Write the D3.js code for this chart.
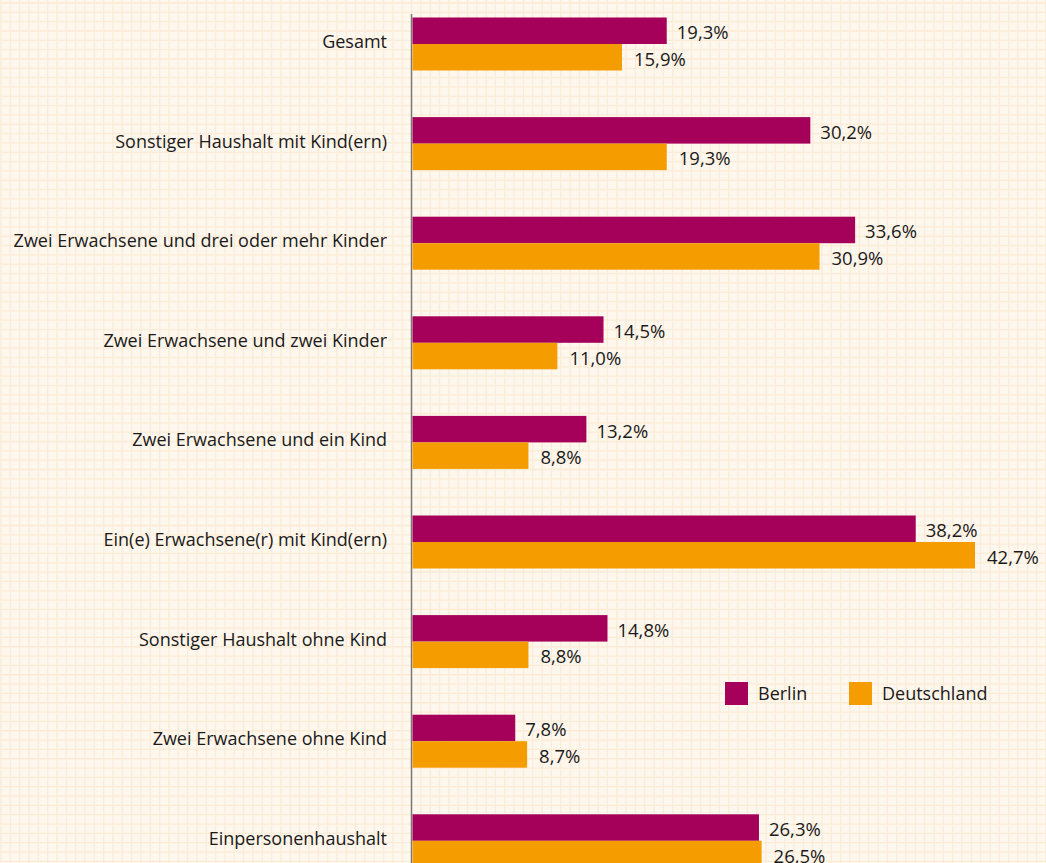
<!DOCTYPE html>
<html><head><meta charset="utf-8">
<script src="https://cdn.jsdelivr.net/npm/d3@7"></script>
<style>html,body{margin:0;padding:0;background:#fef7ee;overflow:hidden}</style>
</head><body>
<svg id="c" width="1046" height="863"></svg>
<script>
const categories = ["Gesamt","Sonstiger Haushalt mit Kind(ern)","Zwei Erwachsene und drei oder mehr Kinder","Zwei Erwachsene und zwei Kinder","Zwei Erwachsene und ein Kind","Ein(e) Erwachsene(r) mit Kind(ern)","Sonstiger Haushalt ohne Kind","Zwei Erwachsene ohne Kind","Einpersonenhaushalt"];
const berlin = [19.3,30.2,33.6,14.5,13.2,38.2,14.8,7.8,26.3];
const deutschland = [15.9,19.3,30.9,11.0,8.8,42.7,8.8,8.7,26.5];
const seriesNames = ["Berlin","Deutschland"];
const colors = ["#a5005a","#f59c00"];

const W=1046,H=863;
const svg=d3.select("#c");
// background grid
const g0=svg.append("g");
g0.append("rect").attr("width",W).attr("height",H).attr("fill","#fef7ee");
const step=9.33;
d3.range(0,W,step).forEach(x=>g0.append("line").attr("x1",x+1).attr("x2",x+1).attr("y1",0).attr("y2",H).attr("stroke","#fcebd6").attr("stroke-width",1.3));
d3.range(0,H,step).forEach(y=>g0.append("line").attr("y1",y+3).attr("y2",y+3).attr("x1",0).attr("x2",W).attr("stroke","#fcebd6").attr("stroke-width",1.3));

const x=d3.scaleLinear().domain([0,42.7]).range([412.5,975]);
const y=d3.scaleBand().domain(categories).range([-5.8,890.6]).paddingInner(0).paddingOuter(0);
const bh=26.5;
const font="'Open Sans', sans-serif";

svg.append("line").attr("x1",411.5).attr("x2",411.5).attr("y1",14).attr("y2",H).attr("stroke","#7a7a7a").attr("stroke-width",1.5);

const grp=svg.append("g").selectAll("g").data(categories).join("g");
[berlin,deutschland].forEach((vals,si)=>{
  grp.append("rect")
    .attr("x",x(0)).attr("y",(d,i)=>y(d)+y.bandwidth()/2-bh+si*bh)
    .attr("width",(d,i)=>x(vals[i])-x(0)).attr("height",bh).attr("fill",colors[si]);
  grp.append("text")
    .attr("x",(d,i)=>x(vals[i])+ (si===0?10:12)).attr("y",(d,i)=>y(d)+y.bandwidth()/2-bh+si*bh+bh/2+8.5)
    .attr("font-family",font).attr("font-size",18.5).attr("fill","#1a1a1a")
    .text((d,i)=>vals[i].toFixed(1).replace(".",",")+"%");
});
grp.append("text").attr("x",387).attr("y",d=>y(d)+y.bandwidth()/2+4)
  .attr("text-anchor","end").attr("font-family",font).attr("font-size",18).attr("fill","#1a1a1a")
  .text(d=>d);

// legend
const lg=svg.append("g");
const lx=[725,849];
seriesNames.forEach((n,i)=>{
  lg.append("rect").attr("x",lx[i]).attr("y",682).attr("width",23).attr("height",23).attr("fill",colors[i]);
  lg.append("text").attr("x",lx[i]+33).attr("y",700).attr("font-family",font).attr("font-size",18).attr("fill","#1a1a1a").text(n);
});
</script>
</body></html>
